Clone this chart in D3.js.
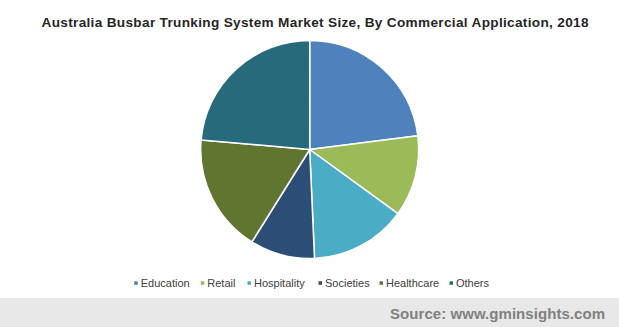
<!DOCTYPE html>
<html><head><meta charset="utf-8">
<script src="https://cdn.jsdelivr.net/npm/d3@7"></script>
<style>body{margin:0;background:#fff}svg{display:block}</style>
</head><body>
<script>
const categories = ["Education","Retail","Hospitality","Societies","Healthcare","Others"];
const values = [23.0, 12.0, 14.3, 9.6, 17.5, 23.6];
const colors = ["#4f81bd","#9bbb59","#4bacc6","#2c4d75","#5f7530","#276a7c"];
const title = "Australia Busbar Trunking System Market Size, By Commercial Application, 2018";
const source = "Source: www.gminsights.com";

const W = 619, H = 327;
const FONT = "Arial, 'Liberation Sans', sans-serif";
const svg = d3.select("body").append("svg").attr("width", W).attr("height", H);

svg.append("text").attr("x", 41.5).attr("y", 27)
  .attr("font-family", FONT).attr("font-weight", "bold")
  .attr("font-size", 13.6).attr("fill", "#262626")
  .attr("textLength", 547).attr("lengthAdjust", "spacing").text(title);

const data = categories.map((c, i) => ({cat: c, v: values[i], color: colors[i]}));
const pie = d3.pie().value(d => d.v).sort(null);
const arc = d3.arc().innerRadius(0).outerRadius(109);
const g = svg.append("g").attr("transform", "translate(309.7,149.5)");
g.selectAll("path").data(pie(data)).enter().append("path")
  .attr("d", arc).attr("fill", d => d.data.color)
  .attr("stroke", "#fff").attr("stroke-width", 1.5).attr("stroke-linejoin", "round");

const legendTextX = [140.7, 207.3, 254, 325, 386, 456];
const lg = svg.append("g");
data.forEach((d, i) => {
  lg.append("rect").attr("x", legendTextX[i] - 6.5).attr("y", 281.3).attr("width", 3.5).attr("height", 3.5).attr("fill", d.color);
  lg.append("text").attr("x", legendTextX[i]).attr("y", 286.5)
    .attr("font-family", FONT).attr("font-size", 11)
    .attr("fill", "#404040").text(d.cat);
});

svg.append("rect").attr("x", 0).attr("y", 298).attr("width", W).attr("height", H - 298).attr("fill", "#e8e8e8");
svg.append("text").attr("x", 390).attr("y", 319)
  .attr("font-family", FONT).attr("font-weight", "bold")
  .attr("font-size", 15).attr("fill", "#808080")
  .attr("textLength", 215).attr("lengthAdjust", "spacing").text(source);
</script>
</body></html>
